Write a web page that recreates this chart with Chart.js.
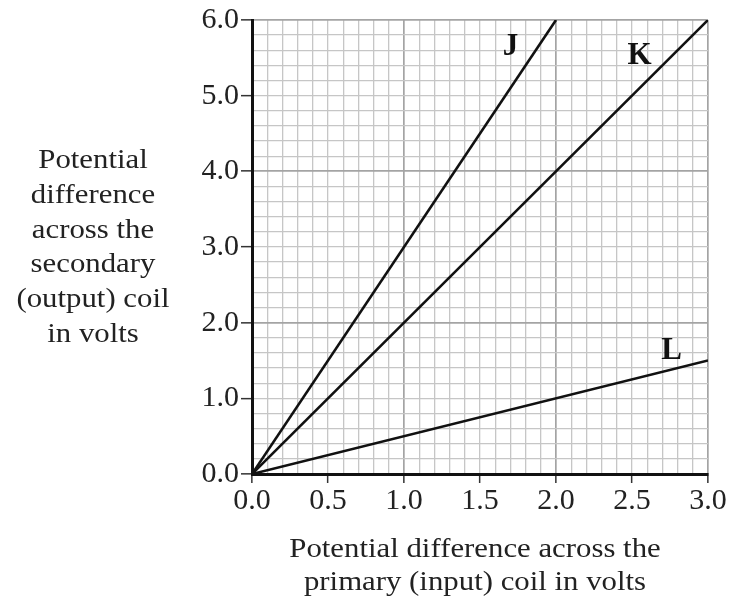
<!DOCTYPE html>
<html>
<head>
<meta charset="utf-8">
<script src="https://cdn.jsdelivr.net/npm/chart.js@4/dist/chart.umd.min.js"></script>
<style>
  html, body { margin: 0; padding: 0; background: #fff; }
  #wrap { width: 731px; height: 600px; position: relative; }
</style>
</head>
<body>
<div id="wrap"><canvas id="chart" width="731" height="600"></canvas></div>
<script>
// Transformer output against input voltage for three coils J, K and L
const primaryJ = [0.0, 2.0];
const secondaryJ = [0.0, 6.0];
const primaryK = [0.0, 3.0];
const secondaryK = [0.0, 6.0];
const primaryL = [0.0, 3.0];
const secondaryL = [0.0, 1.5];

const xTickLabels = ['0.0', '0.5', '1.0', '1.5', '2.0', '2.5', '3.0'];
const yTickLabels = ['0.0', '1.0', '2.0', '3.0', '4.0', '5.0', '6.0'];

const lineNames = ['J', 'K', 'L'];
const nameAtX = [1.70, 2.55, 2.76];
const nameAtY = [5.64, 5.53, 1.62];

const yTitle = ['Potential', 'difference', 'across the', 'secondary', '(output) coil', 'in volts'];
const xTitle = ['Potential difference across the', 'primary (input) coil in volts'];

const SERIF = '"Liberation Serif", "Times New Roman", serif';

function toPoints(xs, ys) {
  return xs.map((x, i) => ({ x: x, y: ys[i] }));
}

function isMultiple(v, step) {
  const q = v / step;
  return Math.abs(q - Math.round(q)) < 1e-6;
}

function lineDataset(xs, ys) {
  return {
    data: toPoints(xs, ys),
    showLine: true,
    borderColor: '#111',
    borderWidth: 2.6,
    pointRadius: 0,
    fill: false,
    tension: 0
  };
}

const annotate = {
  id: 'annotate',
  afterDraw(chart) {
    const ctx = chart.ctx;
    const xs = chart.scales.x, ys = chart.scales.y;
    ctx.save();
    ctx.fillStyle = '#222';
    ctx.textAlign = 'center';
    ctx.textBaseline = 'alphabetic';

    // vertical axis caption, stacked lines left of the axis
    ctx.font = '28px ' + SERIF;
    yTitle.forEach((t, i) => {
      ctx.save();
      ctx.translate(93, 168 + i * 34.8);
      ctx.scale(1.1, 1);
      ctx.fillText(t, 0, 0);
      ctx.restore();
    });

    // horizontal axis caption under the tick labels
    xTitle.forEach((t, i) => {
      ctx.save();
      ctx.translate(475, 557 + i * 33);
      ctx.scale(1.1, 1);
      ctx.fillText(t, 0, 0);
      ctx.restore();
    });

    // line names
    ctx.fillStyle = '#111';
    ctx.font = 'bold 31px ' + SERIF;
    ctx.textBaseline = 'middle';
    lineNames.forEach((n, i) => {
      ctx.fillText(n, xs.getPixelForValue(nameAtX[i]), ys.getPixelForValue(nameAtY[i]));
    });
    ctx.restore();
  }
};

new Chart(document.getElementById('chart'), {
  type: 'scatter',
  data: {
    datasets: [
      lineDataset(primaryJ, secondaryJ),
      lineDataset(primaryK, secondaryK),
      lineDataset(primaryL, secondaryL)
    ]
  },
  options: {
    responsive: false,
    animation: false,
    events: [],
    layout: { padding: { left: 0, top: 20, right: 23, bottom: 0 } },
    plugins: {
      legend: { display: false },
      tooltip: { enabled: false },
      title: { display: false }
    },
    scales: {
      x: {
        type: 'linear',
        min: 0,
        max: 3,
        afterFit(scale) { scale.height = 126; },
        border: { color: '#111', width: 3, z: 1 },
        grid: {
          drawTicks: true,
          tickLength: 9,
          tickWidth: 1.5,
          tickColor: (c) => isMultiple(c.tick.value, 0.5) ? '#333' : 'rgba(0,0,0,0)',
          color: (c) => isMultiple(c.tick.value, 1) ? '#a4a4a4' : '#c6c6c6',
          lineWidth: (c) => isMultiple(c.tick.value, 1) ? 1.7 : 1.3
        },
        ticks: {
          stepSize: 0.1,
          autoSkip: false,
          maxRotation: 0,
          minRotation: 0,
          padding: 0,
          color: '#222',
          font: { family: SERIF, size: 30 },
          callback(v) {
            if (!isMultiple(v, 0.5)) return '';
            return xTickLabels[Math.round(v / 0.5)];
          }
        }
      },
      y: {
        type: 'linear',
        min: 0,
        max: 6,
        afterFit(scale) { scale.width = 252; },
        border: { color: '#111', width: 3, z: 1 },
        grid: {
          drawTicks: true,
          tickLength: 11,
          tickWidth: 1.5,
          tickColor: (c) => isMultiple(c.tick.value, 1) ? '#333' : 'rgba(0,0,0,0)',
          color: (c) => isMultiple(c.tick.value, 2) ? '#a4a4a4' : '#c6c6c6',
          lineWidth: (c) => isMultiple(c.tick.value, 2) ? 1.7 : 1.3
        },
        ticks: {
          stepSize: 0.2,
          autoSkip: false,
          padding: 2,
          color: '#222',
          font: { family: SERIF, size: 30 },
          callback(v) {
            if (!isMultiple(v, 1)) return '';
            return yTickLabels[Math.round(v)];
          }
        }
      }
    }
  },
  plugins: [annotate]
});
</script>
</body>
</html>
